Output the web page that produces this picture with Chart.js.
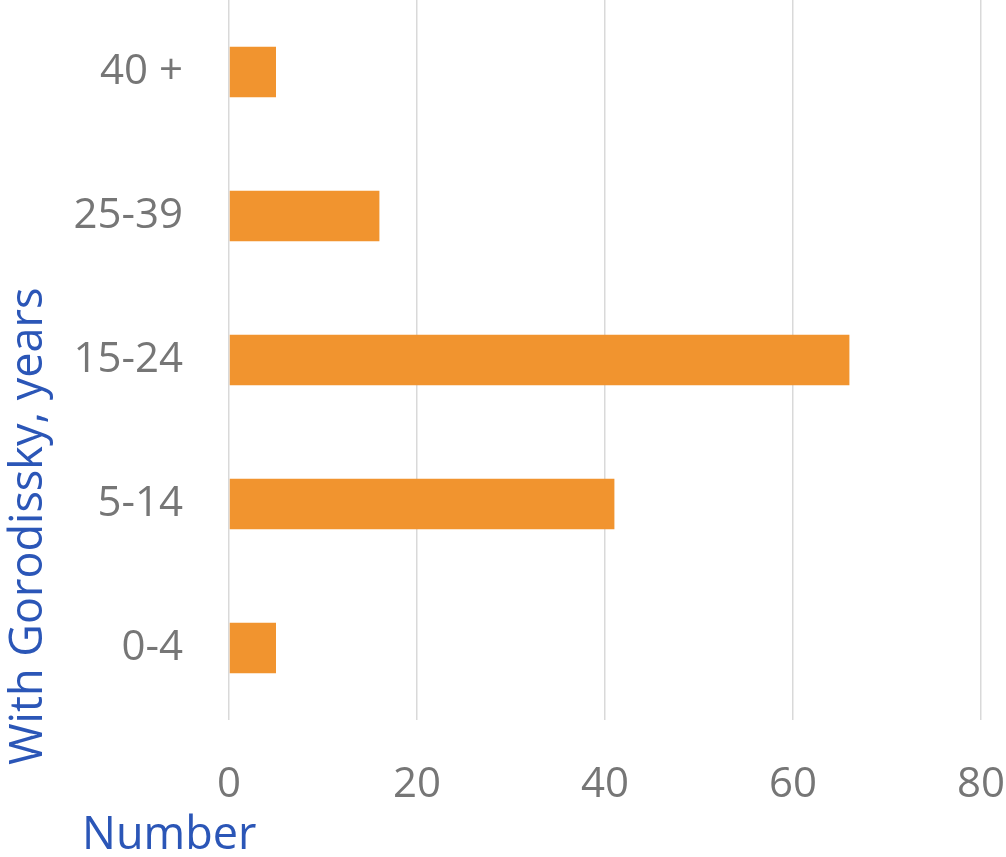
<!DOCTYPE html>
<html>
<head>
<meta charset="utf-8">
<script src="https://cdn.jsdelivr.net/npm/chart.js@4/dist/chart.umd.min.js"></script>
<style>
  html, body { margin: 0; padding: 0; background: #fff; }
  #wrap { width: 1006px; height: 857px; }
</style>
</head>
<body>
<div id="wrap"><canvas id="chart"></canvas></div>
<script>
// data
const categories = ['40 +', '25-39', '15-24', '5-14', '0-4'];
const counts = [5, 16, 66, 41, 5];
const xTicks = [0, 20, 40, 60, 80];

const yTitle = 'With Gorodissky, years';
const xTitle = 'Number';

const tickGrey = '#767676';
const titleBlue = '#2B56B7';
const barOrange = '#F1942F';
const fontFamily = '"Open Sans", "Noto Sans", sans-serif';

// axis titles sit off-centre in the original, so draw them by hand
const axisTitles = {
    id: 'axisTitles',
    afterDraw(chart) {
        const ctx = chart.ctx;
        const area = chart.chartArea;
        ctx.save();
        ctx.fillStyle = titleBlue;
        ctx.font = '45px ' + fontFamily;

        ctx.textAlign = 'left';
        ctx.textBaseline = 'alphabetic';
        ctx.fillText(xTitle, area.left - 147, area.bottom + 129);

        ctx.translate(area.left - 187, area.bottom + 45);
        ctx.rotate(-Math.PI / 2);
        ctx.fillText(yTitle, 0, 0);
        ctx.restore();
    }
};

const ctx = document.getElementById('chart').getContext('2d');
const myChart = new Chart(ctx, {
    type: 'bar',
    data: {
        labels: categories,
        datasets: [{
            data: counts,
            backgroundColor: barOrange,
            borderWidth: 0,
            barPercentage: 0.35,
            categoryPercentage: 1
        }]
    },
    options: {
        indexAxis: 'y',
        responsive: true,
        maintainAspectRatio: false,
        animation: false,
        layout: { padding: { left: 0, right: 25, top: 0, bottom: 0 } },
        plugins: {
            legend: { display: false },
            tooltip: { enabled: false }
        },
        scales: {
            x: {
                min: xTicks[0],
                max: xTicks[xTicks.length - 1],
                afterBuildTicks: (scale) => {
                    scale.ticks = xTicks.map(v => ({ value: v }));
                },
                afterFit: (scale) => {
                    scale.height = 137;
                    scale.paddingLeft = 0;
                    scale.paddingRight = 0;
                },
                grid: { color: '#D9D9D9', lineWidth: 1.5, drawTicks: false },
                border: { display: false },
                ticks: {
                    color: tickGrey,
                    padding: 40,
                    font: { family: fontFamily, size: 42 }
                }
            },
            y: {
                afterFit: (scale) => {
                    scale.width = 229;
                    scale.paddingTop = 0;
                    scale.paddingBottom = 0;
                },
                grid: { display: false, drawTicks: false },
                border: { display: false },
                ticks: {
                    color: tickGrey,
                    padding: 46,
                    font: { family: fontFamily, size: 42 }
                }
            }
        }
    },
    plugins: [axisTitles]
});
</script>
</body>
</html>
